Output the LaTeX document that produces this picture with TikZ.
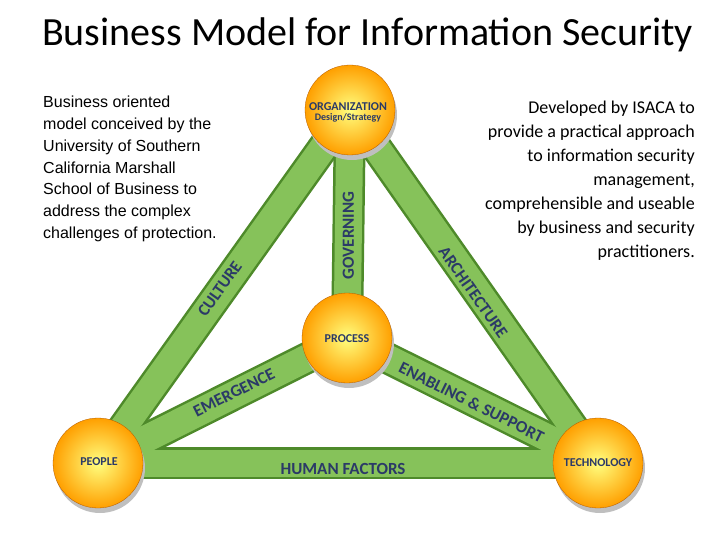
\documentclass[tikz,border=0pt]{standalone}
\usepackage{fontspec}
\usetikzlibrary{calc}
\setmainfont{Carlito}
\newfontfamily\arial{Liberation Sans}
\definecolor{gdark}{HTML}{4E8A2A}
\definecolor{glight}{HTML}{86C25A}
\definecolor{navy}{HTML}{2B3A67}
\begin{document}
\begin{tikzpicture}[x=1pt,y=-1pt,
  bar/.style={line width=32pt,gdark},
  barin/.style={line width=27pt,glight},
  ball/.style={circle,minimum size=90pt,inner sep=0pt,inner color=yellow!50!white,outer color=orange!75!yellow,draw=orange!70!black,line width=0.3pt},
  lab/.style={font=\bfseries\fontsize{12}{12}\selectfont,text=navy},
  blab/.style={font=\bfseries\fontsize{17}{17}\selectfont,text=navy}]
\useasboundingbox (0,0) rectangle (720,540);
\node[font=\fontsize{40}{40}\selectfont,anchor=base west,inner sep=0pt] (title) at (42,46) {Business Model for Information Security};
\coordinate (o) at (350,110);
\coordinate (p) at (98,463);
\coordinate (t) at (598,463);
\coordinate (c) at (347,338);
\foreach \a/\b in {o/p,o/t,p/t,o/c,p/c,c/t}{\draw[bar,line cap=round] (\a)--(\b);}
\foreach \a/\b in {o/p,o/t,p/t,o/c,p/c,c/t}{\draw[barin,line cap=round] (\a)--(\b);}
\foreach \n in {o,p,t,c}{\fill[black!25] ($(\n)+(2,5)$) circle (45pt);}
\node[ball] (org) at (o) {};
\node[ball] (peo) at (p) {};
\node[ball] (tec) at (t) {};
\node[ball] (pro) at (c) {};
\node[lab,align=center] at (348,112) {ORGANIZATION\\[-2pt]{\fontsize{10}{10}\selectfont Design/Strategy}};
\node[lab] at (347,339) {PROCESS};
\node[lab] at (99,462) {PEOPLE};
\node[lab] at (598,463) {TECHNOLOGY};
\path (o)--(c) node[blab,pos=0.55,rotate=90] {GOVERNING};
\path (p)--(o) node[blab,pos=0.49,sloped,yshift=2pt] {CULTURE};
\path (o)--(t) node[blab,pos=0.51,sloped,yshift=-4pt] {ARCHITECTURE};
\path (p)--(c) node[blab,pos=0.55,sloped,yshift=2pt] {EMERGENCE};
\path (c)--(t) node[blab,pos=0.5,sloped,yshift=-2pt] {ENABLING \& SUPPORT};
\path (p)--(t) node[blab,pos=0.49,yshift=-6pt] {HUMAN FACTORS};
\node[font=\arial\fontsize{16}{21.8}\selectfont,align=left,anchor=north west,inner sep=0pt] (lt) at (43,96)
 {Business oriented\\model conceived by the\\University of Southern\\California Marshall\\School of Business to\\address the complex\\challenges of protection.};
\node[font=\fontsize{18}{24}\selectfont,align=right,anchor=north east,inner sep=0pt] (rt) at (695,101)
 {Developed by ISACA to\\provide a practical approach\\to information security\\management,\\comprehensible and useable\\by business and security\\practitioners.};
\end{tikzpicture}
\end{document}
